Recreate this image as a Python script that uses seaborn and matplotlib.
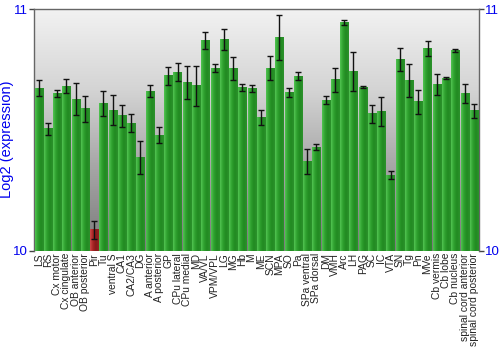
import numpy as np
import pandas as pd
import matplotlib
matplotlib.use("Agg")
import matplotlib.pyplot as plt
import seaborn as sns
from matplotlib.colors import LinearSegmentedColormap

regions = ["LS", "RS", "Cx motor", "Cx cingulate", "OB anterior", "OB posterior", "Pir", "Tu",
           "ventral S", "CA1", "CA2/CA3", "DG", "A anterior", "A posterior", "GP", "CPu lateral",
           "CPu medial", "MD", "VA/VL", "VPM/VPL", "LG", "MG", "Hb", "M",
           "ME", "SCN", "MPA", "SO", "Pa", "SPa ventral", "SPa dorsal", "DM",
           "VMH", "Arc", "LH", "PAG", "SC", "IC", "VTA", "SN",
           "Tg", "Pn", "MVe", "Cb vermis", "Cb lobe", "Cb nucleus",
           "spinal cord anterior", "spinal cord posterior"]
expression = [10.672, 10.505, 10.650, 10.682, 10.628, 10.588, 10.087, 10.610,
              10.581, 10.559, 10.529, 10.388, 10.661, 10.479, 10.724, 10.740,
              10.697, 10.683, 10.871, 10.755, 10.875, 10.755, 10.675, 10.672,
              10.552, 10.755, 10.883, 10.656, 10.722, 10.369, 10.430, 10.623,
              10.708, 10.945, 10.742, 10.678, 10.567, 10.577, 10.313, 10.792,
              10.705, 10.617, 10.838, 10.687, 10.715, 10.828, 10.652, 10.579]
error = [0.033, 0.025, 0.015, 0.028, 0.067, 0.054, 0.038, 0.050,
         0.062, 0.045, 0.036, 0.068, 0.024, 0.032, 0.036, 0.036,
         0.069, 0.082, 0.035, 0.017, 0.043, 0.048, 0.014, 0.016,
         0.030, 0.050, 0.092, 0.018, 0.016, 0.052, 0.014, 0.017,
         0.049, 0.009, 0.082, 0.003, 0.038, 0.060, 0.016, 0.046,
         0.070, 0.050, 0.030, 0.043, 0.003, 0.005, 0.040, 0.030]
highlight = "Pir"

df = pd.DataFrame({"region": regions, "expression": expression, "error": error})
df["group"] = ["low" if r == highlight else "normal" for r in regions]

sns.set_style("white")
plt.rcParams["font.family"] = ["Liberation Sans", "DejaVu Sans"]
fig = plt.figure(figsize=(5, 3.5), dpi=100)
ax = fig.add_axes([0.068, 0.283, 0.889, 0.691])

ymin, ymax = 10, 11
n = len(regions)

# background gradient
bg = LinearSegmentedColormap.from_list("bg", ["#7a7a7a", "#a4a4a4", "#d4d4d4", "#f2f2f2"])
ax.imshow(np.linspace(0, 1, 256).reshape(-1, 1), cmap=bg, aspect="auto",
          extent=(-0.5, n - 0.5, ymin, ymax), origin="lower", zorder=0)

palette = {"normal": "#2e9a2e", "low": "#a82828"}
sns.barplot(data=df, x="region", y="expression", hue="group", palette=palette,
            dodge=False, legend=False, ax=ax, width=0.88, linewidth=0, zorder=2)

# horizontal gradient on each bar
green_cm = LinearSegmentedColormap.from_list("g", ["#52c452", "#2ea02e", "#218a21", "#2c922c"])
red_cm = LinearSegmentedColormap.from_list("r", ["#cc4a4a", "#a82424", "#861a1a", "#962222"])
grad = np.linspace(0, 1, 64).reshape(1, -1)
for p in list(ax.patches):
    x0 = p.get_x(); w = p.get_width(); h = p.get_height(); y0 = p.get_y()
    if h <= 0:
        continue
    top = y0 + h
    idx = int(round(x0 + w / 2))
    cm = red_cm if regions[idx] == highlight else green_cm
    ax.imshow(grad, cmap=cm, aspect="auto", extent=(x0, x0 + w, ymin, top), zorder=3)

ax.errorbar(np.arange(n), df["expression"], yerr=df["error"], fmt="none",
            ecolor="#111111", elinewidth=1.0, capsize=2, capthick=1.0, zorder=4)

ax.set_xlim(-0.5, n - 0.5)
ax.set_ylim(ymin, ymax)
ax.set_yticks([10, 11])
ax.set_yticklabels(["10", "11"])
ax.tick_params(axis="y", colors="#444444", labelcolor="#0000ee", labelsize=9.5, length=3.5,
               width=1, pad=1, left=True, right=True, labelleft=True, labelright=True)
ax.tick_params(axis="x", labelsize=7.4, labelcolor="#222222", length=0, pad=1.5)
plt.setp(ax.get_xticklabels(), rotation=90)
ax.set_xlabel("")
ax.set_ylabel("Log2 (expression)", color="#0000ee", fontsize=10.5)
ax.yaxis.set_label_coords(-0.045, 0.463)

for side in ["left", "top", "right", "bottom"]:
    ax.spines[side].set_color("#666666")
    ax.spines[side].set_linewidth(1.0)
ax.spines["bottom"].set_visible(False)

fig.savefig("out.png", dpi=100)
